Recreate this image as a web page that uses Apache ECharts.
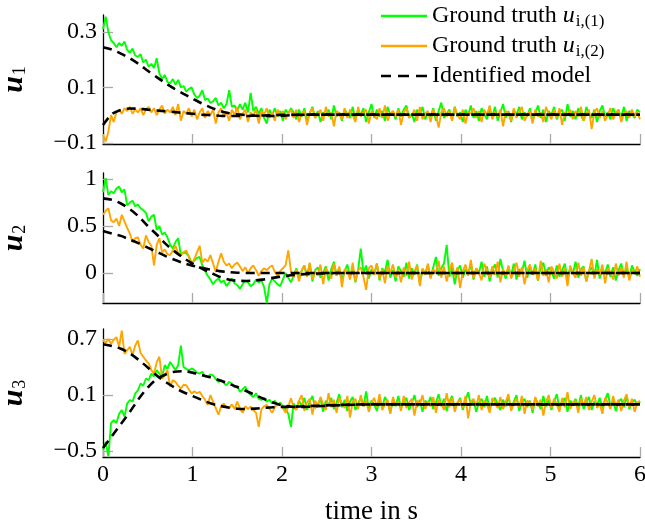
<!DOCTYPE html>
<html><head><meta charset="utf-8">
<script src="https://cdn.jsdelivr.net/npm/echarts@6/dist/echarts.min.js"></script>
<style>html,body{margin:0;padding:0;background:#fff}#c{width:645px;height:525px}</style>
</head><body><div id="c"></div><script>
// ---- sample steps (s) ----
const dtData = 0.03;
const dtModel = 0.1;

// ---- tick values ----
const xTicks = [0, 1, 2, 3, 4, 5, 6];
const yTicks1 = [-0.1, 0.1, 0.3];
const yTicks2 = [0, 0.5, 1];
const yTicks3 = [-0.5, 0.1, 0.7];

// ---- panel 1 (u1): ground truth sampled every 0.03 s ----
const gt1_u1 = [0.31,0.355,0.30,0.27,0.26,0.245,0.26,0.25,0.265,0.235,
0.225,0.24,0.215,0.21,0.22,0.19,0.2,0.175,0.185,0.17,
0.205,0.15,0.13,0.145,0.12,0.115,0.13,0.11,0.127,0.1,
0.105,0.085,0.095,0.1,0.075,0.062,0.07,0.09,0.055,0.06,
0.044,0.05,0.062,0.035,0.045,0.025,0.04,0.09,0.03,0.035,
0.015,0.04,0.02,0.045,0.01,0.08,0.015,0.03,0.005,0.025,
-0.01,-0.03,0.02,0.0,0.025,-0.005,0.015,-0.02,0.02,0.005,
0.025,
0.01,-0.015,0.02,-0.005,0.025,-0.02,0.005,0.03,-0.01,0.015,
-0.025,0.01,0.0,0.02,-0.015,0.035,-0.005,0.01,-0.02,0.02,
0.005,-0.01,0.03,-0.015,0.015,0.0,0.025,-0.025,0.01,0.04,
-0.01,0.02,-0.005,0.015,-0.02,0.03,0.0,0.01,-0.015,0.025,
-0.005,0.02,0.035,-0.01,0.005,-0.025,0.02,0.0,0.03,-0.015,
0.01,-0.005,0.025,-0.02,0.015,0.045,-0.01,0.005,0.02,-0.015,
0.03,-0.005,0.01,-0.025,0.02,0.0,0.035,-0.01,0.015,-0.02,
0.025,0.005,-0.015,0.02,-0.005,0.03,-0.02,0.01,0.04,-0.01,
0.015,-0.025,0.02,0.0,0.03,-0.015,0.01,-0.005,0.025,-0.02,
0.005,0.035,-0.01,0.02,-0.025,0.015,0.0,0.03,-0.015,0.01,
0.02,-0.02,0.04,-0.005,0.015,-0.015,0.025,0.0,-0.02,0.03,
0.005,-0.01,0.02,-0.025,0.015,0.035,-0.005,0.01,-0.015,0.025,
0.0,0.02,-0.01,0.03,-0.02,0.015,0.005,-0.01,0.02,0.01];
const gt2_u1 = [-0.07,-0.095,-0.06,0.0,-0.025,0.01,0.02,0.005,0.025,0.015,
0.03,0.005,0.02,0.01,0.025,0.0,0.02,0.03,0.01,0.025,
0.0,0.02,0.035,0.005,0.02,0.01,0.03,0.0,0.04,-0.02,
0.015,0.005,0.025,-0.005,0.02,-0.015,0.01,0.025,-0.01,0.015,
0.0,0.02,-0.03,0.01,0.025,-0.005,0.01,-0.02,0.02,0.0,
0.03,-0.015,0.005,0.02,-0.025,0.01,0.0,0.02,-0.03,0.015,
0.0,0.025,-0.01,0.01,-0.02,0.02,0.0,0.015,-0.015,0.01,
0.02,
-0.01,0.02,-0.025,0.005,0.015,-0.035,0.01,0.025,-0.01,0.0,
0.02,-0.02,0.03,-0.005,0.01,-0.04,0.015,0.005,-0.015,0.025,
-0.01,0.02,0.0,-0.025,0.03,-0.005,0.01,0.02,-0.03,0.015,
0.0,-0.015,0.025,-0.01,0.035,-0.02,0.005,0.015,-0.005,0.02,
-0.035,0.01,0.025,-0.01,0.0,0.02,-0.02,0.03,-0.015,0.005,
0.015,-0.025,0.02,0.0,-0.045,0.01,0.025,-0.005,0.015,-0.02,
0.03,0.0,-0.015,0.02,-0.03,0.01,0.005,0.025,-0.01,0.015,
-0.025,0.02,0.0,0.035,-0.015,0.01,-0.005,0.02,-0.04,0.015,
0.005,-0.02,0.025,-0.01,0.01,0.03,-0.02,0.0,0.015,-0.03,
0.02,-0.005,0.01,-0.025,0.03,0.005,-0.015,0.02,-0.01,0.025,
-0.035,0.01,0.0,0.02,-0.015,0.015,-0.005,0.03,-0.02,0.005,
0.02,-0.05,0.01,0.025,-0.01,0.015,-0.02,0.0,0.025,-0.015,
0.01,0.02,-0.025,0.005,0.015,-0.01,0.02,-0.005,0.01,-0.015];
// identified model, sampled every 0.1 s
const mod1_u1 = [0.245,0.236,0.222,0.205,0.184,0.16,0.137,0.115,0.095,0.077,
0.06,0.043,0.028,0.016,0.008,0.003,0.0,-0.002,-0.003,-0.003,
-0.002,0.0,0.001,0.002,0.002,0.002,0.002,0.002,0.002,0.002,
0.002,0.002,0.002,0.002,0.002,0.002,0.002,0.002,0.002,0.002,
0.002,0.002,0.002,0.002,0.002,0.002,0.002,0.002,0.002,0.002,
0.002,0.002,0.002,0.002,0.002,0.002,0.002,0.002,0.002,0.002,
0.002];
const mod2_u1 = [-0.036,0.004,0.019,0.024,0.023,0.02,0.017,0.014,0.011,0.008,
0.005,0.002,0.0,-0.002,-0.003,-0.003,-0.003,-0.002,-0.001,0.0,
0.001,0.001,0.002,0.002,0.002,0.002,0.002,0.002,0.002,0.002,
0.002,0.002,0.002,0.002,0.002,0.002,0.002,0.002,0.002,0.002,
0.002,0.002,0.002,0.002,0.002,0.002,0.002,0.002,0.002,0.002,
0.002,0.002,0.002,0.002,0.002,0.002,0.002,0.002,0.002,0.002,
0.002];

// ---- panel 2 (u2) ----
const gt1_u2 = [0.86,1.01,0.83,0.87,0.85,0.9,0.92,0.86,0.89,0.72,
0.75,0.77,0.71,0.73,0.69,0.67,0.64,0.55,0.6,0.62,
0.46,0.5,0.41,0.43,0.38,0.3,0.26,0.33,0.37,0.19,
0.22,0.21,0.18,0.11,0.13,0.16,0.17,0.08,0.02,-0.03,
-0.07,-0.12,-0.08,-0.06,-0.1,-0.08,-0.14,-0.1,-0.06,-0.11,
-0.13,-0.17,-0.12,-0.08,-0.1,-0.14,-0.12,-0.07,-0.1,-0.08,
-0.15,-0.32,-0.12,-0.06,-0.09,-0.12,-0.14,-0.07,0.0,-0.05,
-0.1,
-0.03,0.05,-0.06,0.02,0.08,-0.04,0.1,-0.09,0.03,0.06,
-0.05,0.0,0.07,-0.08,0.04,0.12,-0.03,0.05,-0.07,0.02,
0.09,-0.04,0.06,-0.1,0.03,0.26,0.0,0.08,-0.06,0.04,
-0.02,0.1,-0.08,0.05,0.01,0.14,-0.05,0.03,-0.09,0.07,
0.02,-0.04,0.11,-0.06,0.05,-0.02,0.09,-0.11,0.04,0.0,
0.08,-0.05,0.06,0.17,-0.03,0.05,0.1,0.3,-0.04,0.06,
-0.12,0.03,0.08,-0.05,0.04,-0.02,0.1,-0.07,0.05,0.0,
0.12,-0.04,0.07,-0.09,0.03,0.09,-0.05,0.15,0.02,-0.06,
0.06,-0.03,0.1,-0.07,0.04,0.01,0.13,-0.05,0.07,-0.02,
0.09,-0.08,0.05,0.11,-0.03,0.06,0.02,-0.06,0.08,-0.04,
0.03,0.1,-0.07,0.05,-0.01,0.12,-0.05,0.04,0.07,-0.09,
0.02,0.06,-0.03,0.14,-0.06,0.04,0.0,0.09,-0.04,0.06,
-0.08,0.03,0.1,-0.02,0.05,-0.06,0.08,0.01,-0.03,0.04];
const gt2_u2 = [0.62,0.66,0.69,0.56,0.54,0.58,0.5,0.62,0.55,0.48,
0.42,0.33,0.37,0.38,0.3,0.26,0.4,0.33,0.29,0.08,
0.3,0.37,0.22,0.25,0.2,0.19,0.24,0.29,0.21,0.19,
0.22,0.24,0.17,0.08,0.15,0.22,0.29,0.11,0.15,0.12,
0.19,0.1,0.01,0.12,0.21,0.12,0.08,0.1,0.05,0.09,
0.11,0.07,0.02,0.06,0.0,0.05,0.08,0.03,-0.03,0.02,
0.05,0.03,0.06,0.08,0.01,-0.03,0.02,0.05,0.08,0.24,
0.02,
-0.05,0.04,-0.09,0.03,0.08,-0.04,0.11,-0.07,0.02,-0.03,
0.09,-0.12,0.05,0.0,-0.06,0.1,-0.03,0.07,-0.15,0.04,
0.02,-0.07,0.11,-0.09,0.03,0.06,-0.04,-0.18,0.05,0.08,
-0.02,0.1,-0.06,0.04,-0.11,0.07,0.0,0.09,-0.05,0.03,
-0.1,0.06,-0.03,0.12,-0.07,0.02,0.08,-0.14,0.05,-0.02,
0.1,-0.06,0.04,0.0,0.13,-0.05,0.07,-0.09,0.03,0.11,
-0.04,0.06,-0.16,0.02,0.09,-0.03,0.14,-0.06,0.05,0.0,
-0.08,0.1,0.03,-0.05,0.07,-0.02,0.12,-0.1,0.04,-0.03,
0.08,-0.06,0.02,0.11,-0.04,0.06,-0.12,0.03,0.09,-0.02,
0.05,-0.08,0.13,-0.03,0.04,-0.1,0.07,0.01,-0.06,0.1,
-0.04,0.05,-0.14,0.08,0.0,-0.05,0.11,-0.03,0.06,-0.09,
0.02,0.15,-0.06,0.04,-0.02,0.09,-0.11,0.05,0.01,-0.07,
0.1,-0.03,0.06,-0.05,0.12,-0.08,0.03,-0.01,0.07,-0.04];
const mod1_u2 = [0.795,0.78,0.74,0.68,0.6,0.5,0.41,0.31,0.23,0.16,
0.1,0.05,0.005,-0.04,-0.07,-0.083,-0.085,-0.08,-0.068,-0.052,
-0.037,-0.025,-0.016,-0.01,-0.006,-0.003,-0.001,0.0,0.0,0.0,
0.0,0.0,0.0,0.0,0.0,0.0,0.0,0.0,0.0,0.0,
0.0,0.0,0.0,0.0,0.0,0.0,0.0,0.0,0.0,0.0,
0.0,0.0,0.0,0.0,0.0,0.0,0.0,0.0,0.0,0.0,
0.0];
const mod2_u2 = [0.447,0.42,0.395,0.355,0.315,0.27,0.225,0.18,0.14,0.105,
0.078,0.055,0.035,0.02,0.01,0.003,0.0,0.0,0.0,0.0,
0.0,0.0,0.0,0.0,0.0,0.0,0.0,0.0,0.0,0.0,
0.0,0.0,0.0,0.0,0.0,0.0,0.0,0.0,0.0,0.0,
0.0,0.0,0.0,0.0,0.0,0.0,0.0,0.0,0.0,0.0,
0.0,0.0,0.0,0.0,0.0,0.0,0.0,0.0,0.0,0.0,
0.0];

// ---- panel 3 (u3) ----
const gt1_u3 = [-0.485,-0.4,-0.556,-0.2,-0.17,-0.2,-0.1,-0.06,-0.13,0.01,
0.047,0.03,0.117,0.15,0.224,0.2,0.277,0.26,0.33,0.3,
0.366,0.33,0.295,0.42,0.38,0.455,0.41,0.37,0.42,0.63,
0.4,0.38,0.366,0.385,0.37,0.34,0.33,0.35,0.3,0.295,
0.32,0.31,0.27,0.24,0.26,0.23,0.206,0.24,0.224,0.18,
0.2,0.135,0.16,0.19,0.13,0.1,0.08,0.12,0.06,0.047,
0.07,0.03,0.05,0.01,0.04,-0.01,0.02,-0.024,-0.05,-0.1,
-0.24,
0.01,-0.05,0.04,-0.02,0.07,-0.06,0.03,0.09,-0.04,0.0,
0.06,-0.08,0.04,-0.01,0.07,-0.05,0.02,0.11,-0.03,0.05,
-0.07,0.03,0.08,-0.06,0.01,0.07,-0.02,0.14,-0.05,0.04,
0.0,-0.07,0.06,-0.03,0.08,0.02,-0.09,0.05,-0.02,0.09,
-0.04,0.03,0.07,-0.06,0.01,0.1,-0.03,0.05,-0.08,0.04,
0.0,0.08,-0.05,0.02,0.11,-0.02,0.06,-0.07,0.03,0.09,
-0.04,0.01,0.07,-0.06,0.04,0.13,-0.01,0.05,-0.08,0.02,
0.06,-0.03,0.09,-0.05,0.03,0.07,0.0,-0.06,0.05,-0.02,
0.08,-0.04,0.03,0.1,-0.07,0.02,0.06,-0.03,0.04,-0.09,
0.07,0.01,-0.05,0.09,-0.02,0.05,-0.06,0.03,0.11,-0.04,
0.02,0.07,-0.08,0.04,0.0,0.06,-0.03,0.1,-0.05,0.02,
0.08,-0.06,0.03,-0.01,0.07,-0.04,0.05,0.12,-0.02,0.04,
-0.07,0.03,0.06,-0.03,0.09,-0.05,0.02,0.05,-0.01,0.03];
const gt2_u3 = [0.685,0.66,0.7,0.65,0.69,0.72,0.617,0.79,0.54,0.58,
0.617,0.525,0.63,0.685,0.55,0.51,0.47,0.44,0.366,0.33,
0.45,0.51,0.277,0.31,0.366,0.19,0.26,0.24,0.2,0.17,
0.21,0.206,0.16,0.117,0.14,0.12,0.135,0.09,0.05,-0.006,
0.1,0.03,-0.04,-0.11,-0.02,0.01,-0.03,-0.04,0.0,-0.05,
0.03,-0.04,-0.09,-0.02,-0.05,-0.024,-0.06,-0.09,-0.24,-0.05,
-0.02,-0.006,-0.05,-0.09,-0.03,0.0,0.01,-0.04,-0.09,-0.02,
0.065,
-0.03,-0.06,0.04,0.1,-0.07,0.02,0.06,-0.11,0.04,-0.02,
0.08,0.0,-0.06,0.12,-0.03,0.05,-0.09,0.07,0.01,-0.04,
0.09,-0.14,0.03,0.06,-0.05,0.1,-0.02,0.04,-0.08,0.02,
0.07,-0.03,0.11,-0.06,0.0,0.05,-0.1,0.08,-0.01,0.03,
-0.07,0.09,-0.04,0.02,0.06,-0.12,0.04,0.0,0.1,-0.05,
0.03,-0.02,0.08,-0.09,0.05,0.01,-0.06,0.12,-0.03,0.07,
-0.08,0.02,0.05,-0.04,0.09,-0.15,0.03,0.06,-0.02,0.1,
-0.06,0.04,0.0,-0.09,0.07,0.02,-0.04,0.08,-0.05,0.03,
0.11,-0.07,0.01,0.06,-0.03,0.09,-0.1,0.04,0.02,-0.06,
0.08,-0.02,0.05,-0.12,0.03,0.1,-0.04,0.06,0.0,-0.08,
0.07,-0.03,0.13,-0.05,0.02,0.04,-0.09,0.06,-0.01,0.08,
-0.06,0.03,0.1,-0.04,0.01,-0.1,0.07,0.02,-0.05,0.09,
-0.02,0.05,-0.07,0.04,0.11,-0.03,0.06,-0.08,0.02,0.04];
const mod1_u3 = [-0.467,-0.34,-0.21,-0.08,0.06,0.18,0.27,0.32,0.35,0.355,
0.34,0.315,0.29,0.258,0.224,0.185,0.143,0.1,0.058,0.02,
-0.01,-0.024,-0.028,-0.025,-0.02,-0.015,-0.01,-0.007,-0.004,-0.002,
0.0,0.0,0.0,0.0,0.0,0.0,0.0,0.0,0.0,0.0,
0.0,0.0,0.0,0.0,0.0,0.0,0.0,0.0,0.0,0.0,
0.0,0.0,0.0,0.0,0.0,0.0,0.0,0.0,0.0,0.0,
0.0];
const mod2_u3 = [0.643,0.625,0.595,0.545,0.475,0.395,0.31,0.24,0.18,0.13,
0.09,0.05,0.012,-0.015,-0.033,-0.047,-0.05,-0.045,-0.037,-0.03,
-0.027,-0.025,-0.022,-0.018,-0.014,-0.01,-0.007,-0.004,-0.002,0.0,
0.0,0.0,0.0,0.0,0.0,0.0,0.0,0.0,0.0,0.0,
0.0,0.0,0.0,0.0,0.0,0.0,0.0,0.0,0.0,0.0,
0.0,0.0,0.0,0.0,0.0,0.0,0.0,0.0,0.0,0.0,
0.0];

// ---- names ----
const NAME_GT1 = 'Ground truth u_{i,(1)}';
const NAME_GT2 = 'Ground truth u_{i,(2)}';
const NAME_MOD = 'Identified model';
const yNames = ['1', '2', '3'];
const xName = 'time in s';

// ---- style ----
const FONT = "'Liberation Serif', 'Times New Roman', 'DejaVu Serif', serif";
const FS = 24;
const GREEN = '#00ff00', ORANGE = '#ffa500';
const TICKC = '#a9a9a9';

function pairs(arr, dt) { return arr.map((v, i) => [Math.round(i * dt * 1000) / 1000, v]); }
function fmt(v) { return v < 0 ? '\u2212' + Math.abs(v) : String(v); }

const panels = [
  {gt1: gt1_u1, gt2: gt2_u1, m1: mod1_u1, m2: mod2_u1, ticks: yTicks1, min: -0.104, max: 0.361, top: 15, height: 129},
  {gt1: gt1_u2, gt2: gt2_u2, m1: mod1_u2, m2: mod2_u2, ticks: yTicks2, min: -0.32, max: 1.065, top: 173, height: 130},
  {gt1: gt1_u3, gt2: gt2_u3, m1: mod1_u3, m2: mod2_u3, ticks: yTicks3, min: -0.563, max: 0.807, top: 329, height: 128}
];

const labelStyle = {fontFamily: FONT, fontSize: FS, color: '#000', fontStyle: 'normal', fontWeight: 'normal'};

const grid = [], xAxis = [], yAxis = [], series = [];
panels.forEach((p, i) => {
  grid.push({left: 103, width: 537, top: p.top, height: p.height, containLabel: false, outerBoundsMode: 'none'});
  xAxis.push({
    type: 'value', gridIndex: i, min: 0, max: 6,
    axisLine: {show: true, onZero: false, lineStyle: {color: '#000', width: 1.3}},
    axisTick: {show: true, inside: true, length: 10, customValues: xTicks, lineStyle: {color: TICKC, width: 1.3}},
    axisLabel: Object.assign({show: i === 2, customValues: xTicks, margin: 6}, labelStyle),
    splitLine: {show: false},
    name: i === 2 ? xName : '',
    nameLocation: 'middle', nameGap: 41,
    nameTextStyle: Object.assign({}, labelStyle, {fontSize: 27})
  });
  yAxis.push({
    type: 'value', gridIndex: i, min: p.min, max: p.max,
    axisLine: {show: true, onZero: false, lineStyle: {color: '#000', width: 1.3}},
    axisTick: {show: true, inside: true, length: 10, customValues: p.ticks, lineStyle: {color: TICKC, width: 1.3}},
    axisLabel: Object.assign({customValues: p.ticks, formatter: fmt, margin: 6}, labelStyle),
    splitLine: {show: false},
    name: '{u|u}{s|' + yNames[i] + '}',
    nameLocation: 'middle', nameRotate: 90, nameGap: 75,
    nameTextStyle: {
      fontFamily: FONT,
      rich: {
        u: {fontFamily: FONT, fontSize: 30, fontStyle: 'italic', fontWeight: 'bold', color: '#000', lineHeight: 28},
        s: {fontFamily: FONT, fontSize: 18, color: '#000', lineHeight: 18, padding: [12, 0, 0, 1]}
      }
    }
  });
  const common = {type: 'line', xAxisIndex: i, yAxisIndex: i, symbol: 'none', animation: false};
  series.push(Object.assign({}, common, {name: NAME_GT1, data: pairs(p.gt1, dtData), lineStyle: {color: GREEN, width: 1.9}, itemStyle: {color: GREEN}, z: 2}));
  series.push(Object.assign({}, common, {name: NAME_GT2, data: pairs(p.gt2, dtData), lineStyle: {color: ORANGE, width: 1.9}, itemStyle: {color: ORANGE}, z: 3}));
  series.push(Object.assign({}, common, {name: NAME_MOD, data: pairs(p.m1, dtModel), smooth: 0.3, lineStyle: {color: '#000', width: 2.6, type: [9, 6]}, itemStyle: {color: '#000'}, z: 4}));
  series.push(Object.assign({}, common, {name: NAME_MOD, data: pairs(p.m2, dtModel), smooth: 0.3, lineStyle: {color: '#000', width: 2.6, type: [9, 6]}, itemStyle: {color: '#000'}, z: 4}));
});

const legendLabels = {};
legendLabels[NAME_GT1] = 'Ground truth {m|u}{s|i,(1)}';
legendLabels[NAME_GT2] = 'Ground truth {m|u}{s|i,(2)}';
legendLabels[NAME_MOD] = 'Identified model';

const ICON_SOLID = 'path://M0,0H46V2.4H0Z';
const ICON_DASH = 'path://M0,0H10V2.6H0Z M17,0H28V2.6H17Z M35,0H46V2.6H35Z';

const option = {
  backgroundColor: '#fff',
  animation: false,
  textStyle: {fontFamily: FONT},
  grid, xAxis, yAxis, series,
  legend: {
    data: [
      {name: NAME_GT1, icon: ICON_SOLID},
      {name: NAME_GT2, icon: ICON_SOLID},
      {name: NAME_MOD, icon: ICON_DASH}
    ],
    orient: 'vertical', left: 381, top: 2, padding: 0,
    itemWidth: 46, itemHeight: 2.6, itemGap: 2,
    formatter: n => legendLabels[n],
    textStyle: {
      fontFamily: FONT, fontSize: FS, color: '#000', lineHeight: 28,
      rich: {
        m: {fontFamily: FONT, fontSize: FS, fontStyle: 'italic', color: '#000', lineHeight: 28},
        s: {fontFamily: FONT, fontSize: 17, color: '#000', lineHeight: 17, padding: [11, 0, 0, 1]}
      }
    }
  }
};
const chart = echarts.init(document.getElementById('c'), null, {renderer: 'canvas'});
chart.setOption(option);
</script></body></html>
